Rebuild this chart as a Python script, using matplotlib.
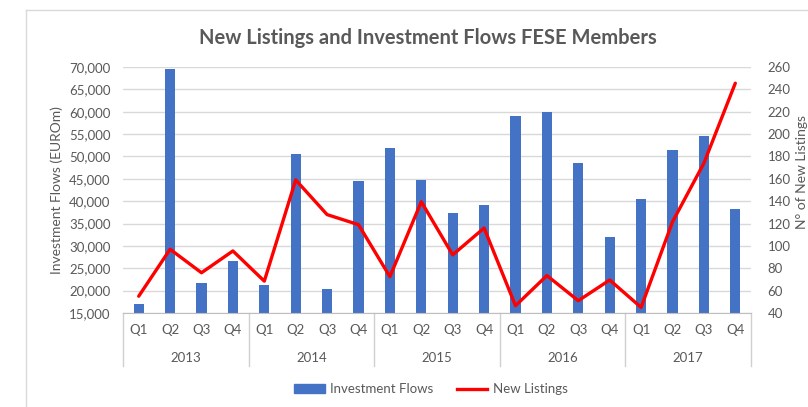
import matplotlib
matplotlib.use("Agg")
import matplotlib.pyplot as plt
import matplotlib.transforms as mtrans
from matplotlib.lines import Line2D
from matplotlib.patches import Rectangle

plt.rcParams['font.family'] = ['Lato', 'DejaVu Sans']

years = ["2013", "2014", "2015", "2016", "2017"]
quarters = ["Q1", "Q2", "Q3", "Q4"]
investment_flows = [16950, 69600, 21800, 26700,
                    21200, 50600, 20300, 44600,
                    51800, 44800, 37450, 39250,
                    59100, 60000, 48600, 32000,
                    40400, 51450, 54600, 38300]
new_listings = [55, 97, 76, 95.5,
                68.5, 159, 128, 119,
                72.5, 139.5, 92, 116,
                46.5, 73.5, 51, 69.5,
                45, 121.5, 174, 245.5]
left_ticks = list(range(15000, 70001, 5000))
right_ticks = list(range(40, 261, 20))

W, H = 808, 407
fig = plt.figure(figsize=(W / 100, H / 100), dpi=100)
gray = "#595959"
grid = "#d9d9d9"

def fx(px):
    return px / W

def fy(py):
    return 1 - py / H

ax = fig.add_axes([fx(123), fy(313), fx(751) - fx(123), fy(67) - fy(313)])
n = len(investment_flows)
x = list(range(n))
ax.bar(x, investment_flows, width=0.32, color="#4472C4", zorder=2, label="Investment Flows")
ax.set_xlim(-0.5, n - 0.5)
ax.set_ylim(15000, 70000)
ax.set_yticks(left_ticks)
ax.set_yticklabels([f"{v:,}" for v in left_ticks])
ax.yaxis.grid(True, color=grid, linewidth=1.0, zorder=0)
ax.set_axisbelow(True)
for s in ["top", "right", "left"]:
    ax.spines[s].set_visible(False)
ax.spines["bottom"].set_color("#bfbfbf")
ax.tick_params(axis="y", length=0, pad=9, labelcolor=gray, labelsize=9.5)
ax.tick_params(axis="x", length=0, pad=8, labelcolor=gray, labelsize=9.5)
ax.set_xticks(x)
ax.set_xticklabels(quarters * len(years))

ax2 = ax.twinx()
ax2.plot(x, new_listings, color="#FF0000", linewidth=2.4, solid_joinstyle="round",
         solid_capstyle="round", zorder=3, label="New Listings")
ax2.set_ylim(40, 260)
ax2.set_yticks(right_ticks)
ax2.tick_params(axis="y", length=0, pad=12, labelcolor=gray, labelsize=9.5)
for s in ["top", "right", "left", "bottom"]:
    ax2.spines[s].set_visible(False)

blend = mtrans.blended_transform_factory(ax.transData, fig.transFigure)
for i, yr in enumerate(years):
    ax.text(i * 4 + 1.5, fy(358), yr, transform=blend,
            ha="center", va="center", color=gray, fontsize=9.5)
for k in range(len(years) + 1):
    xv = k * 4 - 0.5
    ax.add_line(Line2D([xv, xv], [fy(313), fy(366)], color="#d0d0d0", linewidth=1.0,
                       transform=blend, clip_on=False))

fig.text(fx(57), fy(190), "Investment Flows (EUROm)", rotation=90, ha="center", va="center",
         color=gray, fontsize=10)
fig.text(fx(802), fy(172), "N° of New Listings", rotation=90, ha="center", va="center",
         color=gray, fontsize=10)
fig.text(fx(428), fy(38), "New Listings and Investment Flows FESE Members", ha="center",
         va="center", color=gray, fontsize=14.5, fontweight="bold")

# chart border
fig.add_artist(Line2D([fx(26), fx(26)], [fy(10), 0], color="#d9d9d9", linewidth=1.0))
fig.add_artist(Line2D([fx(26), 1], [fy(10), fy(10)], color="#d9d9d9", linewidth=1.0))

handles = [Rectangle((0, 0), 1, 1, color="#4472C4"),
           Line2D([0], [0], color="#FF0000", linewidth=2.4)]
leg = fig.legend(handles, ["Investment Flows", "New Listings"], loc="center",
                 bbox_to_anchor=(fx(431), fy(389)), ncol=2, frameon=False,
                 fontsize=9.5, labelcolor=gray, handlelength=2.3, handleheight=0.6,
                 columnspacing=1.8, handletextpad=0.4)

fig.savefig("out.png", dpi=100)
